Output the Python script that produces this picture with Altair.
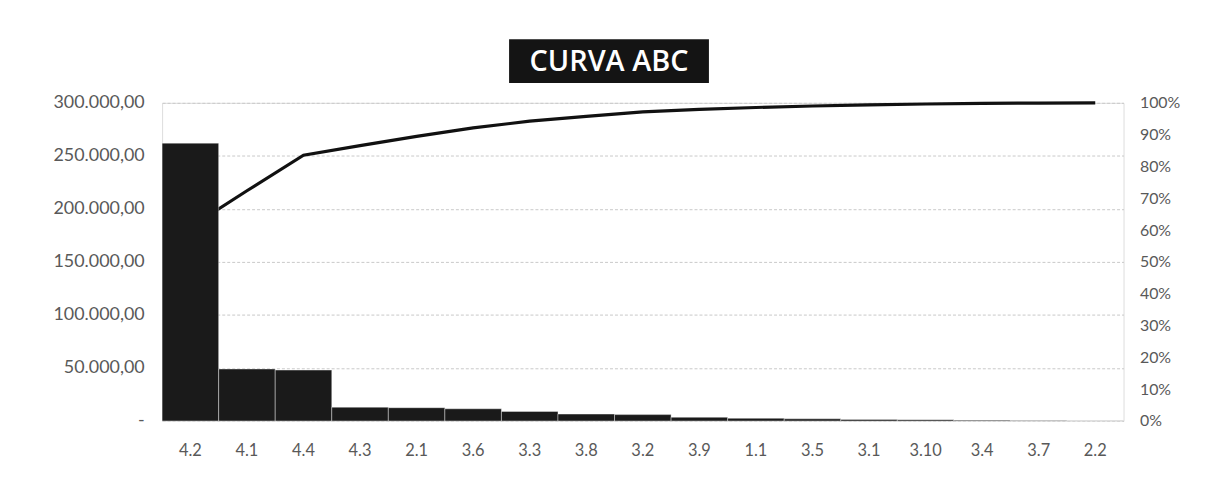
import altair as alt
import pandas as pd

categories = ["4.2", "4.1", "4.4", "4.3", "2.1", "3.6", "3.3", "3.8", "3.2",
              "3.9", "1.1", "3.5", "3.1", "3.10", "3.4", "3.7", "2.2"]
values = [262000, 49000, 48000, 13000, 12500, 11500, 9000, 6500, 6000,
          3500, 2500, 2000, 1500, 1200, 800, 500, 300]
left_ticks = [0, 50000, 100000, 150000, 200000, 250000, 300000]
right_ticks = [0, 0.1, 0.2, 0.3, 0.4, 0.5, 0.6, 0.7, 0.8, 0.9, 1.0]
title_text = "CURVA ABC"

df = pd.DataFrame({"cat": categories, "val": values})
df["cum"] = df["val"].cumsum() / df["val"].sum()

FONT = "Lato"
GRAY = "#595959"

x_enc = alt.X("cat:N", sort=categories, title=None,
              scale=alt.Scale(type="band", paddingInner=0, paddingOuter=0),
              axis=alt.Axis(labelAngle=0, labelFontSize=16.5, labelColor=GRAY,
                            labelFont=FONT, ticks=False, domain=False,
                            labelPadding=22, grid=False, labelAlign="center"))

bars = alt.Chart(df).mark_bar(color="#1a1a1a", stroke="#ffffff", strokeWidth=0.4).encode(
    x=x_enc,
    y=alt.Y("val:Q", title=None,
            scale=alt.Scale(domain=[0, 300000], nice=False),
            axis=alt.Axis(values=left_ticks, labelFontSize=18, labelColor=GRAY,
                          labelFont=FONT, ticks=False, domain=False, labelPadding=18,
                          grid=True, gridColor="#c9c9c9", gridDash=[3, 2],
                          labelExpr="datum.value == 0 ? '-' : replace(replace(replace(format(datum.value, ',.2f'), ',', '_'), '.', ','), '_', '.')"))
)

line = alt.Chart(df).mark_line(color="#111111", strokeWidth=3.2).encode(
    x=x_enc,
    y=alt.Y("cum:Q", title=None,
            scale=alt.Scale(domain=[0, 1], nice=False),
            axis=alt.Axis(orient="right", values=right_ticks, format=".0%",
                          labelFontSize=16, labelColor=GRAY, labelFont=FONT,
                          ticks=False, domain=False, labelPadding=16, grid=False))
)

title_df = pd.DataFrame({"t": [title_text]})
title_box = alt.Chart(title_df).mark_rect(color="#141414").encode(
    x=alt.value(349), x2=alt.value(550), y=alt.value(-64), y2=alt.value(-20)
)
title_txt = alt.Chart(title_df).mark_text(
    color="#ffffff", font="Open Sans", fontSize=29, fontWeight=600,
    align="center", baseline="middle"
).encode(x=alt.value(449.5), y=alt.value(-41), text="t:N")

chart = alt.layer(line, bars, title_box, title_txt).resolve_scale(
    y="independent"
).properties(
    width=967, height=320,
    autosize=alt.AutoSizeParams(type="none"),
    padding={"left": 155, "top": 94, "right": 90, "bottom": 60},
).configure_view(
    stroke="#c9c9c9", strokeWidth=1, strokeDash=[3, 2]
).configure(background="#ffffff")

chart.save("out.html", embed_options={"renderer": "svg", "actions": False})
